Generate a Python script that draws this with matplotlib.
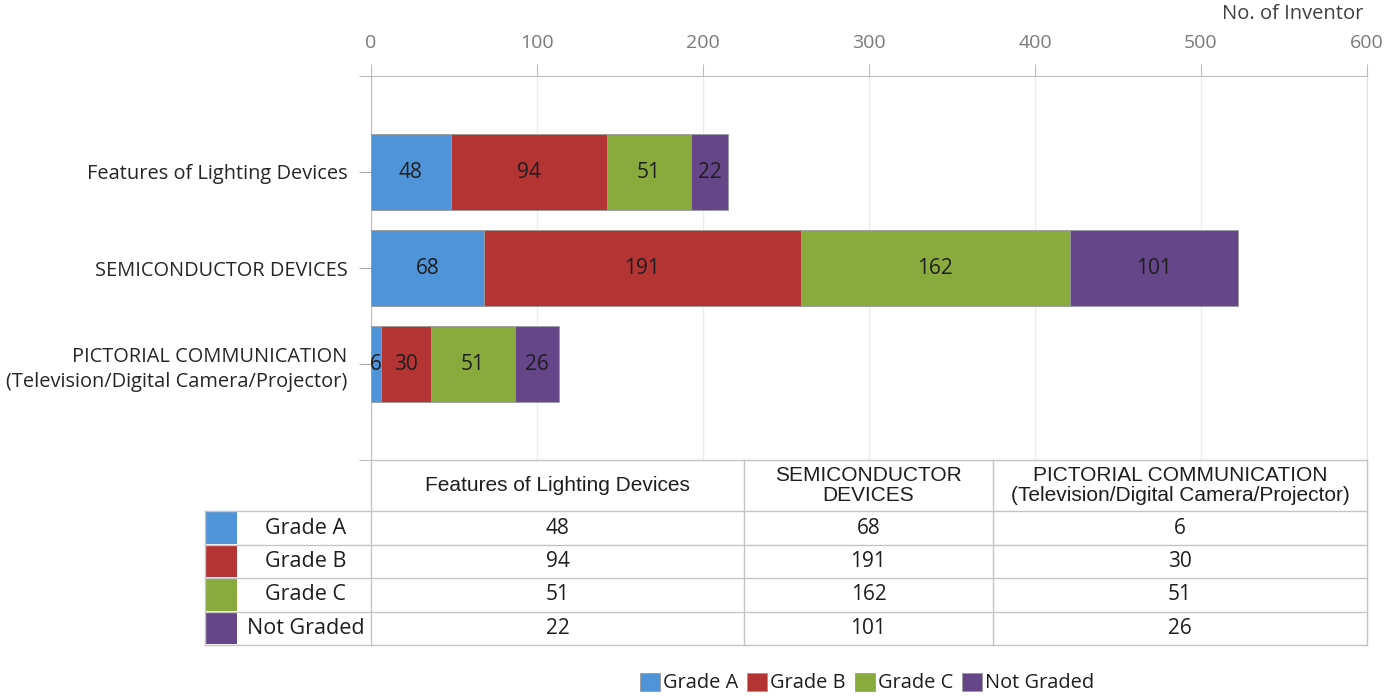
import matplotlib
matplotlib.use('Agg')
import matplotlib.pyplot as plt
import numpy as np

plt.rcParams['font.family'] = ['Open Sans', 'DejaVu Sans']

### data
categories = ['Features of Lighting Devices',
              'SEMICONDUCTOR DEVICES',
              'PICTORIAL COMMUNICATION\n(Television/Digital Camera/Projector)']
table_headers = ['Features of Lighting Devices',
                 'SEMICONDUCTOR\nDEVICES',
                 'PICTORIAL COMMUNICATION\n(Television/Digital Camera/Projector)']
grades = ['Grade A', 'Grade B', 'Grade C', 'Not Graded']
grade_a = [48, 68, 6]
grade_b = [94, 191, 30]
grade_c = [51, 162, 51]
not_graded = [22, 101, 26]
xticks = [0, 100, 200, 300, 400, 500, 600]

colors = ['#4f94d8', '#b43434', '#89ab3d', '#654688']
series = [grade_a, grade_b, grade_c, not_graded]

W, H = 1386, 698
fig = plt.figure(figsize=(W/100., H/100.), dpi=100)

def fx(px): return px/float(W)
def fy(py): return 1. - py/float(H)

### main bar axes, pixel layout
x0, x1, ytop, ybot = 371, 1367, 76, 460
ax = fig.add_axes([fx(x0), fy(ybot), fx(x1-x0), fy(ytop)-fy(ybot)])

ypos = np.arange(1, len(categories)+1)
left = np.zeros(len(categories))
for vals, col, name in zip(series, colors, grades):
    bars = ax.barh(ypos, vals, left=left, height=0.8, color=col,
                   edgecolor='#9a9a9a', linewidth=0.6, label=name, zorder=3)
    ax.bar_label(bars, labels=[str(v) for v in vals], label_type='center',
                 fontsize=15, color='#1e1e1e')
    left = left + np.array(vals)

ax.set_xlim(0, 600)
ax.set_ylim(4, 0)
ax.set_xticks(xticks)
ax.xaxis.tick_top()
ax.tick_params(axis='x', which='both', length=9, color='#bdbdbd',
               labelcolor='#7a7a7a', labelsize=14, pad=8)
ax.set_yticks(ypos)
ax.set_yticklabels(categories, fontsize=14.4, color='#262626', linespacing=1.4)
ax.set_yticks([0, 4], minor=True)
ax.tick_params(axis='y', which='both', length=9, color='#a8a8a8', pad=8)
ax.grid(axis='x', color='#ececec', linewidth=1, zorder=0)
for s in ['top', 'left']:
    ax.spines[s].set_color('#bdbdbd')
ax.spines['right'].set_color('#e0e0e0')
ax.spines['bottom'].set_visible(False)

fig.text(fx(1363), fy(14), 'No. of Inventor', ha='right', va='center',
         fontsize=14.5, color='#404040')

### data table under the axes
tab = fig.add_axes([0, 0, 1, 1])
tab.set_xlim(0, W)
tab.set_ylim(H, 0)
tab.axis('off')

col_x = [371, 744, 993, 1367]
row_y = [460, 511, 545, 578, 612, 645]
lab_x0, sq_x1 = 205, 238
lc = '#c4c4c4'

# header row
tab.plot([col_x[0], col_x[-1]], [row_y[0], row_y[0]], color=lc, lw=1)
for i, head in enumerate(table_headers):
    cx = 0.5*(col_x[i] + col_x[i+1])
    tab.text(cx, 0.5*(row_y[0]+row_y[1]), head, ha='center', va='center',
             fontsize=15, color='#1e1e1e', family='Liberation Sans',
             linespacing=1.05)

# data rows
for r, (name, vals, col) in enumerate(zip(grades, series, colors)):
    yt, yb = row_y[r+1], row_y[r+2]
    tab.add_patch(plt.Rectangle((lab_x0+1, yt+1), sq_x1-lab_x0-2, yb-yt-2,
                                facecolor=col, edgecolor='none'))
    tab.text(0.5*(sq_x1+col_x[0])+1, 0.5*(yt+yb), name, ha='center',
             va='center', fontsize=15.5, color='#1e1e1e')
    for i, v in enumerate(vals):
        tab.text(0.5*(col_x[i]+col_x[i+1]), 0.5*(yt+yb), str(v),
                 ha='center', va='center', fontsize=15, color='#1e1e1e')

for y in row_y[1:]:
    tab.plot([lab_x0, col_x[-1]], [y, y], color=lc, lw=1)
tab.plot([lab_x0, lab_x0], [row_y[1], row_y[-1]], color=lc, lw=1)
for x in col_x:
    tab.plot([x, x], [row_y[0], row_y[-1]], color=lc, lw=1)

### legend at the bottom
handles, labels = ax.get_legend_handles_labels()
fig.legend(handles, labels, loc='center', bbox_to_anchor=(fx(867), fy(683)),
           ncol=4, frameon=False, fontsize=14.4, handlelength=1.0,
           handleheight=1.0, handletextpad=0.15, columnspacing=0.45,
           labelcolor='#1e1e1e')

plt.savefig('out.png', dpi=100)
